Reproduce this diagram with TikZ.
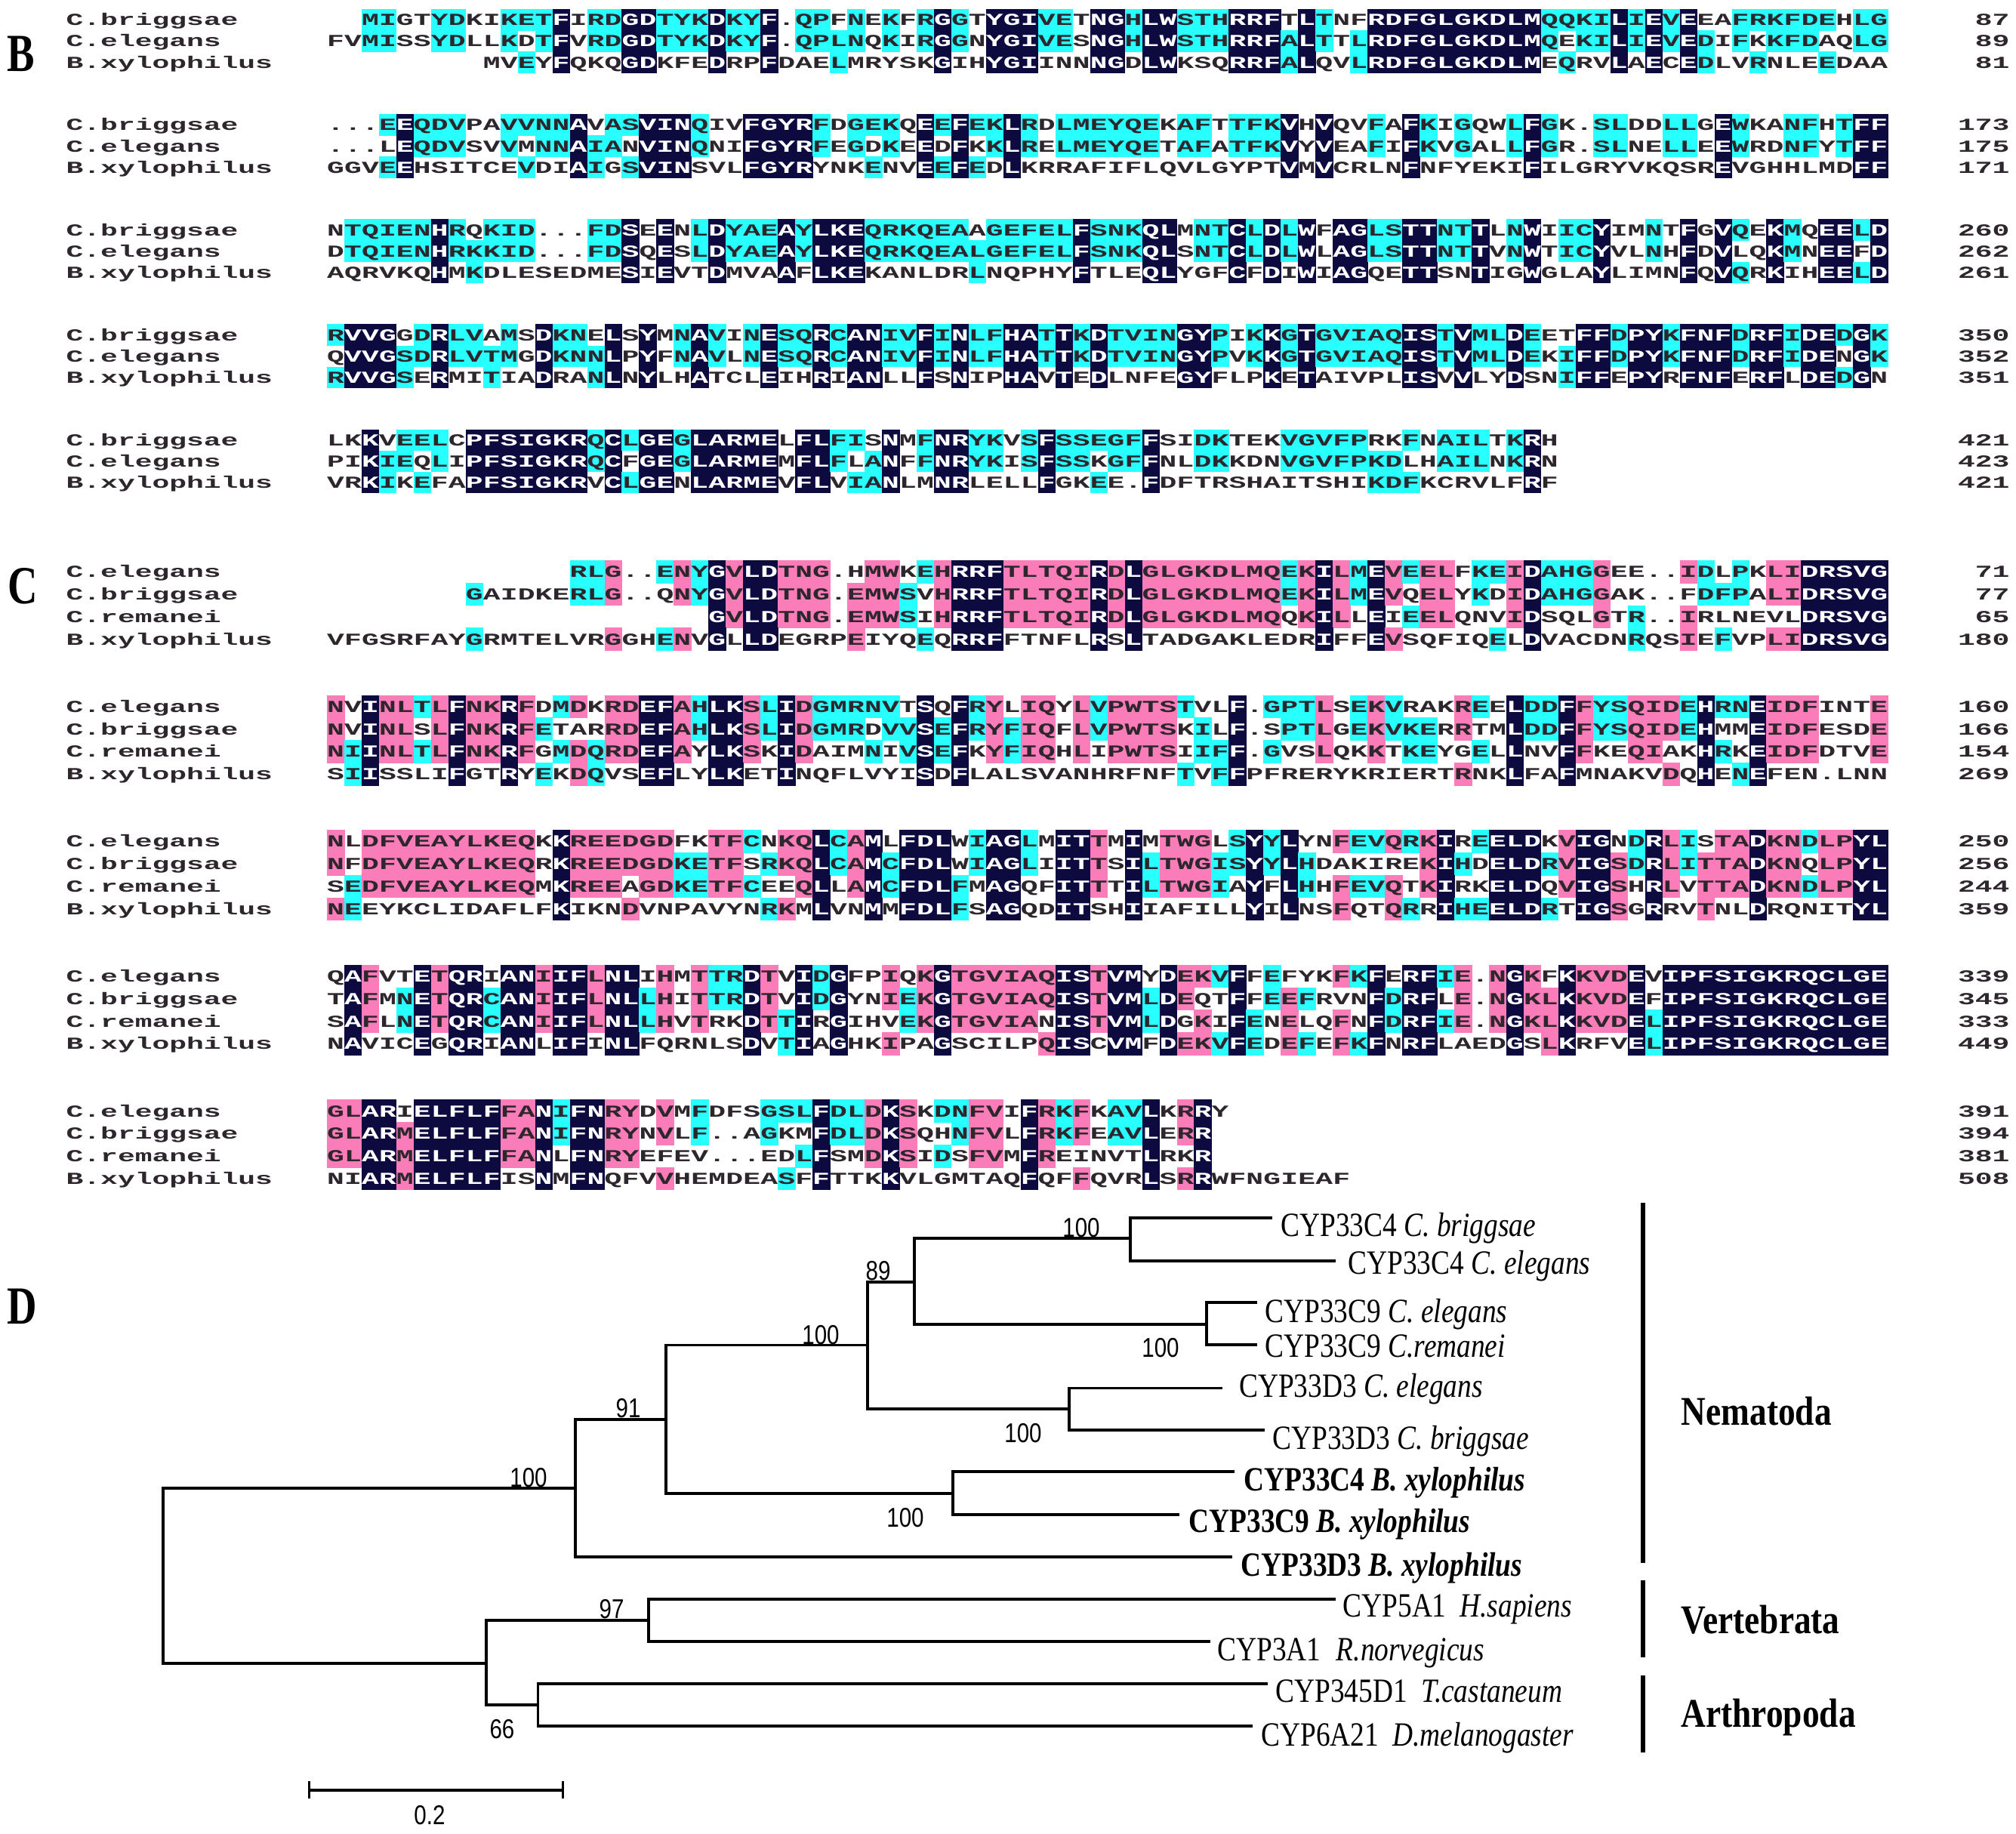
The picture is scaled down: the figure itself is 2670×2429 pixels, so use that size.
\documentclass[tikz,border=0pt]{standalone}
\usepackage{fontspec}
\usepackage{xcolor}
\newfontfamily\seqfont[FakeStretch=1.7]{Liberation Mono}
\newfontfamily\treefont[FakeStretch=0.83]{Liberation Serif}
\newfontfamily\grpfont[FakeStretch=0.84]{Liberation Serif}
\newfontfamily\panelfont[FakeStretch=0.77]{Liberation Serif}
\newfontfamily\bootfont[FakeStretch=0.82]{Liberation Sans}
\definecolor{alnnavy}{RGB}{12,10,62}
\definecolor{alncyan}{RGB}{40,255,255}
\definecolor{alnpink}{RGB}{250,125,185}
\definecolor{seqtxt}{RGB}{45,38,45}
\newlength\alncw \setlength\alncw{6.891pt}
\newlength\alnrw \setlength\alnrw{7.05pt}
\newlength\alnht \newlength\alndp
\newcommand\AlnBlank{\hspace*{\alncw}}
\newcommand\AlnBg[1]{\rlap{\textcolor{#1}{\rule[-\alndp]{\alnrw}{\alnht}}}}
\newcommand\AlnCell[2]{%
  \ifcase#1\relax
    \makebox[\alncw][c]{\textcolor{seqtxt}{#2}}%
  \or
    \AlnBg{alnnavy}\makebox[\alncw][c]{\textcolor{white}{#2}}%
  \or
    \AlnBg{alnpink}\makebox[\alncw][c]{\textcolor{seqtxt}{#2}}%
  \or
    \AlnBg{alncyan}\makebox[\alncw][c]{\textcolor{seqtxt}{#2}}%
  \fi}
\ExplSyntaxOn
\cs_generate_variant:Nn \str_item:Nn { c }
\cs_generate_variant:Nn \str_count:N { c }
\int_new:N \l_aln_n_int
\int_new:N \l_aln_len_int
\int_new:N \l_aln_m_int
\int_new:N \l_aln_c_int
\int_new:N \l_aln_code_int
\str_new:N \l_aln_cons_str
\str_new:N \l_aln_a_str
\str_new:N \l_aln_b_str
\seq_new:N \l_aln_rows_seq
\bool_new:N \l_aln_better_bool
\str_const:Nn \c_aln_dot_str { . }
\str_const:Nn \c_aln_dash_str { - }
\int_step_inline:nn { 6 }
  {
    \tl_new:c { l_aln_row_#1_str }
    \tl_new:c { g_aln_out_#1_tl }
  }
\cs_new:Npn \Bk #1 { \prg_replicate:nn {#1} { - } }
\cs_new:Npn \aln_ccode:N #1 { \exp_after:wN ` #1 }
\cs_new_protected:Npn \aln_compute:n #1
  {
    \seq_set_from_clist:Nn \l_aln_rows_seq {#1}
    \int_set:Nn \l_aln_n_int { \seq_count:N \l_aln_rows_seq }
    \int_zero:N \l_aln_len_int
    \int_step_inline:nn { \l_aln_n_int }
      {
        \tl_set:cx { l_aln_row_##1_str } { \seq_item:Nn \l_aln_rows_seq {##1} }
        \tl_set:cx { l_aln_row_##1_str } { \tl_use:c { l_aln_row_##1_str } }
        \tl_gclear:c { g_aln_out_##1_tl }
        \int_set:Nn \l_aln_len_int
          { \int_max:nn { \l_aln_len_int } { \str_count:c { l_aln_row_##1_str } } }
      }
    \int_step_inline:nn { \l_aln_len_int } { \aln_column:n {##1} }
  }
\cs_new_protected:Npn \aln_column:n #1
  {
    \int_zero:N \l_aln_m_int
    \str_clear:N \l_aln_cons_str
    \int_step_inline:nn { \l_aln_n_int }
      {
        \str_set:Nx \l_aln_a_str { \str_item:cn { l_aln_row_##1_str } {#1} }
        \bool_if:nT
          {
            ! \str_if_empty_p:N \l_aln_a_str
            && ! \str_if_eq_p:NN \l_aln_a_str \c_aln_dot_str
            && ! \str_if_eq_p:NN \l_aln_a_str \c_aln_dash_str
          }
          {
            \int_zero:N \l_aln_c_int
            \int_step_inline:nn { \l_aln_n_int }
              {
                \str_set:Nx \l_aln_b_str { \str_item:cn { l_aln_row_####1_str } {#1} }
                \str_if_eq:NNT \l_aln_a_str \l_aln_b_str { \int_incr:N \l_aln_c_int }
              }
            \bool_set_false:N \l_aln_better_bool
            \int_compare:nNnTF { \l_aln_c_int } > { \l_aln_m_int }
              { \bool_set_true:N \l_aln_better_bool }
              {
                \int_compare:nNnT { \l_aln_c_int } = { \l_aln_m_int }
                  {
                    \int_compare:nNnT { \aln_ccode:N \l_aln_a_str } < { \aln_ccode:N \l_aln_cons_str }
                      { \bool_set_true:N \l_aln_better_bool }
                  }
              }
            \bool_if:NT \l_aln_better_bool
              {
                \int_set_eq:NN \l_aln_m_int \l_aln_c_int
                \str_set_eq:NN \l_aln_cons_str \l_aln_a_str
              }
          }
      }
    \int_compare:nNnTF { \l_aln_m_int } = { \l_aln_n_int }
      { \int_set:Nn \l_aln_code_int { 1 } }
      {
        \int_compare:nNnTF { 4 * \l_aln_m_int } < { 3 * \l_aln_n_int }
          {
            \int_compare:nNnTF { 2 * \l_aln_m_int } < { \l_aln_n_int }
              { \int_set:Nn \l_aln_code_int { 0 } }
              { \int_set:Nn \l_aln_code_int { 3 } }
          }
          { \int_set:Nn \l_aln_code_int { 2 } }
      }
    \int_step_inline:nn { \l_aln_n_int }
      {
        \str_set:Nx \l_aln_a_str { \str_item:cn { l_aln_row_##1_str } {#1} }
        \bool_if:nTF { \str_if_empty_p:N \l_aln_a_str || \str_if_eq_p:NN \l_aln_a_str \c_aln_dash_str }
          { \tl_gput_right:cn { g_aln_out_##1_tl } { \AlnBlank } }
          {
            \str_if_eq:NNTF \l_aln_a_str \l_aln_cons_str
              { \tl_gput_right:cx { g_aln_out_##1_tl } { \exp_not:N \AlnCell { \int_use:N \l_aln_code_int } { \l_aln_a_str } } }
              { \tl_gput_right:cx { g_aln_out_##1_tl } { \exp_not:N \AlnCell { 0 } { \l_aln_a_str } } }
          }
      }
  }
\NewDocumentCommand \AlnCompute { m } { \aln_compute:n {#1} }
\NewDocumentCommand \AlnRow { m } { \tl_use:c { g_aln_out_#1_tl } }
\ExplSyntaxOff
\newcommand\SeqRow[5]{%
  \node[seqlab] (#1l) at (87,#2+7.4) {#3};
  \node[seqrow] (#1) at (433,#2+7.4) {\AlnRow{#4}};
  \node[seqnum] (#1n) at (2662,#2+7.4) {#5};}
\begin{document}
\begin{tikzpicture}[x=0.3pt,y=-0.3pt,
  seqfnt/.style={font=\seqfont\bfseries\fontsize{6.7pt}{8pt}\selectfont},
  seqrow/.style={seqfnt,anchor=base west,inner sep=0pt,outer sep=0pt},
  seqlab/.style={seqfnt,anchor=base west,inner sep=0pt,text=seqtxt},
  seqnum/.style={seqfnt,anchor=base east,inner sep=0pt,text=seqtxt},
  panel/.style={inner sep=0pt,font=\panelfont\bfseries\fontsize{21.3pt}{24pt}\selectfont},
  br/.style={line width=1.15pt,line join=miter},
  leaf/.style={anchor=base west,inner sep=0pt,font=\treefont\fontsize{13.5pt}{16pt}\selectfont},
  boot/.style={inner sep=0pt,font=\bootfont\fontsize{10.8pt}{12pt}\selectfont},
  grp/.style={anchor=base west,inner sep=0pt,font=\grpfont\bfseries\fontsize{16.2pt}{19pt}\selectfont},
  grpbar/.style={line width=1.95pt}]
\useasboundingbox (0,0) rectangle (2670,2429);
\fill[white] (0,0) rectangle (2670,2429);
% ---------------- panel letters
\node[panel] (pB) at (28,71) {B};
\node[panel] (pC) at (30,776) {C};
\node[panel] (pD) at (29,1730) {D};
% ---------------- panel B
\setlength\alnht{8.63pt}\setlength\alndp{2.1pt}
\AlnCompute{
\Bk{2}MIGTYDKIKETFIRDGDTYKDKYF.QPFNEKFRGGTYGIVETNGHLWSTHRRFTLTNFRDFGLGKDLMQQKILIEVEEAFRKFDEHLG,
FVMISSYDLLKDTFVRDGDTYKDKYF.QPLNQKIRGGNYGIVESNGHLWSTHRRFALTTLRDFGLGKDLMQEKILIEVEDIFKKFDAQLG,
\Bk{9}MVEYFQKQGDKFEDRPFDAELMRYSKGIHYGIINNNGDLWKSQRRFALQVLRDFGLGKDLMEQRVLAECEDLVRNLEEDAA}
\SeqRow{B1a}{26.5}{C.briggsae}{1}{87}
\SeqRow{B1b}{54.6}{C.elegans}{2}{89}
\SeqRow{B1c}{82.7}{B.xylophilus}{3}{81}
\AlnCompute{
...EEQDVPAVVNNAVASVINQIVFGYRFDGEKQEEFEKLRDLMEYQEKAFTTFKVHVQVFAFKIGQWLFGK.SLDDLLGEWKANFHTFF,
...LEQDVSVVMNNAIANVINQNIFGYRFEGDKEEDFKKLRELMEYQETAFATFKVYVEAFIFKVGALLFGR.SLNELLEEWRDNFYTFF,
GGVEEHSITCEVDIAIGSVINSVLFGYRYNKENVEEFEDLKRRAFIFLQVLGYPTVMVCRLNFNFYEKIFILGRYVKQSREVGHHLMDFF}
\SeqRow{B2a}{165.6}{C.briggsae}{1}{173}
\SeqRow{B2b}{193.7}{C.elegans}{2}{175}
\SeqRow{B2c}{221.8}{B.xylophilus}{3}{171}
\AlnCompute{
NTQIENHRQKID...FDSEENLDYAEAYLKEQRKQEAAGEFELFSNKQLMNTCLDLWFAGLSTTNTTLNWIICYIMNTFGVQEKMQEELD,
DTQIENHRKKID...FDSQESLDYAEAYLKEQRKQEALGEFELFSNKQLSNTCLDLWLAGLSTTNTTVNWTICYVLNHFDVLQKMNEEFD,
AQRVKQHMKDLESEDMESIEVTDMVAAFLKEKANLDRLNQPHYFTLEQLYGFCFDIWIAGQETTSNTIGWGLAYLIMNFQVQRKIHEELD}
\SeqRow{B3a}{304.7}{C.briggsae}{1}{260}
\SeqRow{B3b}{332.8}{C.elegans}{2}{262}
\SeqRow{B3c}{360.9}{B.xylophilus}{3}{261}
\AlnCompute{
RVVGGDRLVAMSDKNELSYMNAVINESQRCANIVFINLFHATTKDTVINGYPIKKGTGVIAQISTVMLDEETFFDPYKFNFDRFIDEDGK,
QVVGSDRLVTMGDKNNLPYFNAVLNESQRCANIVFINLFHATTKDTVINGYPVKKGTGVIAQISTVMLDEKIFFDPYKFNFDRFIDENGK,
RVVGSERMITIADRANLNYLHATCLEIHRIANLLFSNIPHAVTEDLNFEGYFLPKETAIVPLISVVLYDSNIFFEPYRFNFERFLDEDGN}
\SeqRow{B4a}{443.8}{C.briggsae}{1}{350}
\SeqRow{B4b}{471.9}{C.elegans}{2}{352}
\SeqRow{B4c}{500.0}{B.xylophilus}{3}{351}
\AlnCompute{
LKKVEELCPFSIGKRQCLGEGLARMELFLFISNMFNRYKVSFSSEGFFSIDKTEKVGVFPRKFNAILTKRH,
PIKIEQLIPFSIGKRQCFGEGLARMEMFLFLANFFNRYKISFSSKGFFNLDKKDNVGVFPKDLHAILNKRN,
VRKIKEFAPFSIGKRVCLGENLARMEVFLVIANLMNRLELLFGKEE.FDFTRSHAITSHIKDFKCRVLFRF}
\SeqRow{B5a}{582.9}{C.briggsae}{1}{421}
\SeqRow{B5b}{611.0}{C.elegans}{2}{423}
\SeqRow{B5c}{639.1}{B.xylophilus}{3}{421}
% ---------------- panel C
\setlength\alnht{9.14pt}\setlength\alndp{2.36pt}
\AlnCompute{
\Bk{14}RLG..ENYGVLDTNG.HMWKEHRRFTLTQIRDLGLGKDLMQEKILMEVEELFKEIDAHGGEE..IDLPKLIDRSVG,
\Bk{8}GAIDKERLG..QNYGVLDTNG.EMWSVHRRFTLTQIRDLGLGKDLMQEKILMEVQELYKDIDAHGGAK..FDFPALIDRSVG,
\Bk{22}GVLDTNG.EMWSIHRRFTLTQIRDLGLGKDLMQQKILLEIEELQNVIDSQLGTR..IRLNEVLDRSVG,
VFGSRFAYGRMTELVRGGHENVGLLDEGRPEIYQEQRRFFTNFLRSLTADGAKLEDRIFFEVSQFIQELDVACDNRQSIEFVPLIDRSVG}
\SeqRow{C1a}{757.3}{C.elegans}{1}{71}
\SeqRow{C1b}{787.1}{C.briggsae}{2}{77}
\SeqRow{C1c}{816.9}{C.remanei}{3}{65}
\SeqRow{C1d}{846.7}{B.xylophilus}{4}{180}
\AlnCompute{
NVINLTLFNKRFDMDKRDEFAHLKSLIDGMRNVTSQFRYLIQYLVPWTSTVLF.GPTLSEKVRAKREELDDFFYSQIDEHRNEIDFINTE,
NVINLSLFNKRFETARRDEFAHLKSLIDGMRDVVSEFRYFIQFLVPWTSKILF.SPTLGEKVKERRTMLDDFFYSQIDEHMMEIDFESDE,
NIINLTLFNKRFGMDQRDEFAYLKSKIDAIMNIVSEFKYFIQHLIPWTSIIFF.GVSLQKKTKEYGELLNVFFKEQIAKHRKEIDFDTVE,
SIISSLIFGTRYEKDQVSEFLYLKETINQFLVYISDFLALSVANHRFNFTVFFPFRERYKRIERTRNKLFAFMNAKVDQHENEFEN.LNN}
\SeqRow{C2a}{935.9}{C.elegans}{1}{160}
\SeqRow{C2b}{965.7}{C.briggsae}{2}{166}
\SeqRow{C2c}{995.5}{C.remanei}{3}{154}
\SeqRow{C2d}{1025.3}{B.xylophilus}{4}{269}
\AlnCompute{
NLDFVEAYLKEQKKREEDGDFKTFCNKQLCAMLFDLWIAGLMITTMIMTWGLSYYLYNFEVQRKIREELDKVIGNDRLISTADKNDLPYL,
NFDFVEAYLKEQRKREEDGDKETFSRKQLCAMCFDLWIAGLIITTSILTWGISYYLHDAKIREKIHDELDRVIGSDRLITTADKNQLPYL,
SEDFVEAYLKEQMKREEAGDKETFCEEQLLAMCFDLFMAGQFITTTILTWGIAYFLHHFEVQTKIRKELDQVIGSHRLVTTADKNDLPYL,
NEEYKCLIDAFLFKIKNDVNPAVYNRKMLVNMMFDLFSAGQDITSHIIAFILLYILNSFQTQRRIHEELDRTIGSGRRVTNLDRQNITYL}
\SeqRow{C3a}{1114.5}{C.elegans}{1}{250}
\SeqRow{C3b}{1144.3}{C.briggsae}{2}{256}
\SeqRow{C3c}{1174.1}{C.remanei}{3}{244}
\SeqRow{C3d}{1203.9}{B.xylophilus}{4}{359}
\AlnCompute{
QAFVTETQRIANIIFLNLIHMTTRDTVIDGFPIQKGTGVIAQISTVMYDEKVFFEFYKFKFERFIE.NGKFKKVDEVIPFSIGKRQCLGE,
TAFMNETQRCANIIFLNLLHITTRDTVIDGYNIEKGTGVIAQISTVMLDEQTFFEEFRVNFDRFLE.NGKLKKVDEFIPFSIGKRQCLGE,
SAFLNETQRCANIIFLNLLHVTRKDTTIRGIHVEKGTGVIANISTVMLDGKIFENELQFNFDRFIE.NGKLKKVDELIPFSIGKRQCLGE,
NAVICEGQRIANLIFINLFQRNLSDVTIAGHKIPAGSCILPQISCVMFDEKVFEDEFEFKFNRFLAEDGSLKRFVELIPFSIGKRQCLGE}
\SeqRow{C4a}{1293.1}{C.elegans}{1}{339}
\SeqRow{C4b}{1322.9}{C.briggsae}{2}{345}
\SeqRow{C4c}{1352.7}{C.remanei}{3}{333}
\SeqRow{C4d}{1382.5}{B.xylophilus}{4}{449}
\AlnCompute{
GLARIELFLFFANIFNRYDVMFDFSGSLFDLDKSKDNFVIFRKFKAVLKRRY,
GLARMELFLFFANIFNRYNVLF..AGKMFDLDKSQHNFVLFRKFEAVLERR,
GLARMELFLFFANLFNRYEFEV...EDLFSMDKSIDSFVMFREINVTLRKR,
NIARMELFLFISNMFNQFVVHEMDEASFFTTKKVLGMTAQFQFFQVRLSRRWFNGIEAF}
\SeqRow{C5a}{1471.7}{C.elegans}{1}{391}
\SeqRow{C5b}{1501.5}{C.briggsae}{2}{394}
\SeqRow{C5c}{1531.3}{C.remanei}{3}{381}
\SeqRow{C5d}{1561.1}{B.xylophilus}{4}{508}
% ---------------- panel D : tree
\coordinate (l1) at (1685,1613);
\coordinate (l2) at (1768.5,1670);
\coordinate (l3) at (1665,1725);
\coordinate (l4) at (1665,1781);
\coordinate (l5) at (1619,1838.5);
\coordinate (l6) at (1675,1894);
\coordinate (l7) at (1635,1949);
\coordinate (l8) at (1562,2006);
\coordinate (l9) at (1632,2062);
\coordinate (l10) at (1768.5,2118);
\coordinate (l11) at (1602.5,2174);
\coordinate (l12) at (1679,2230);
\coordinate (l13) at (1659,2286);
\coordinate (nE) at (1497,1640);
\coordinate (nF) at (1598,1753.6);
\coordinate (nD) at (1211,1697.7);
\coordinate (nG) at (1416,1866);
\coordinate (nC) at (1149,1781.5);
\coordinate (nH) at (1261.6,1977.7);
\coordinate (nB) at (882,1880);
\coordinate (nA) at (762,1971);
\coordinate (nR) at (216,2087);
\coordinate (nM) at (859,2146.4);
\coordinate (nN) at (712.5,2258.2);
\coordinate (nL) at (644,2203);
\draw[br] (l1) -| (nE) |- (l2);
\draw[br] (l3) -| (nF) |- (l4);
\draw[br] (nE) -| (nD) |- (nF);
\draw[br] (l5) -| (nG) |- (l6);
\draw[br] (nD) -| (nC) |- (nG);
\draw[br] (l7) -| (nH) |- (l8);
\draw[br] (nC) -| (nB) |- (nH);
\draw[br] (nB) -| (nA) |- (l9);
\draw[br] (l10) -| (nM) |- (l11);
\draw[br] (l12) -| (nN) |- (l13);
\draw[br] (nM) -| (nL) |- (nN);
\draw[br] (nA) -| (nR) |- (nL);
% leaf labels
\node[leaf] (t1) at (1696,1638) {CYP33C4 \textit{C. briggsae}};
\node[leaf] (t2) at (1785,1688) {CYP33C4 \textit{C. elegans}};
\node[leaf] (t3) at (1675,1752) {CYP33C9 \textit{C. elegans}};
\node[leaf] (t4) at (1675,1798) {CYP33C9 \textit{C.remanei}};
\node[leaf] (t5) at (1640.5,1851) {CYP33D3 \textit{C. elegans}};
\node[leaf] (t6) at (1685,1920) {CYP33D3 \textit{C. briggsae}};
\node[leaf] (t7) at (1647,1975) {\bfseries CYP33C4 \textit{B. xylophilus}};
\node[leaf] (t8) at (1574,2030) {\bfseries CYP33C9 \textit{B. xylophilus}};
\node[leaf] (t9) at (1643,2088) {\bfseries CYP33D3 \textit{B. xylophilus}};
\node[leaf] (t10) at (1778,2142) {CYP5A1\hspace{0.4em}\textit{H.sapiens}};
\node[leaf] (t11) at (1612,2200) {CYP3A1\hspace{0.45em}\textit{R.norvegicus}};
\node[leaf] (t12) at (1689,2255) {CYP345D1\hspace{0.4em}\textit{T.castaneum}};
\node[leaf] (t13) at (1670,2312) {CYP6A21\hspace{0.4em}\textit{D.melanogaster}};
% bootstrap values
\node[boot] (b1) at (1432,1626) {100};
\node[boot] (b2) at (1163,1683) {89};
\node[boot] (b3) at (1087,1768) {100};
\node[boot] (b4) at (832,1865) {91};
\node[boot] (b5) at (700,1957) {100};
\node[boot] (b6) at (1537,1785) {100};
\node[boot] (b7) at (1355,1898) {100};
\node[boot] (b8) at (1199,2010) {100};
\node[boot] (b9) at (810,2131) {97};
\node[boot] (b10) at (665,2290) {66};
% scale bar
\coordinate (sb1) at (409,2371);
\coordinate (sb2) at (745.5,2371);
\draw[line width=1pt] (sb1) -- (sb2);
\draw[line width=0.9pt] (409,2359) -- (409,2382);
\draw[line width=0.9pt] (745.5,2359) -- (745.5,2382);
\node[boot] (sbl) at (569,2404) {0.2};
% group bars and labels
\draw[grpbar] (2176,1593) -- (2176,2070);
\draw[grpbar] (2176,2093) -- (2176,2195);
\draw[grpbar] (2176,2219) -- (2176,2321);
\node[grp] (gN) at (2226,1888) {Nematoda};
\node[grp] (gV) at (2226,2164) {Vertebrata};
\node[grp] (gA) at (2226,2288) {Arthropoda};
\end{tikzpicture}
\end{document}
